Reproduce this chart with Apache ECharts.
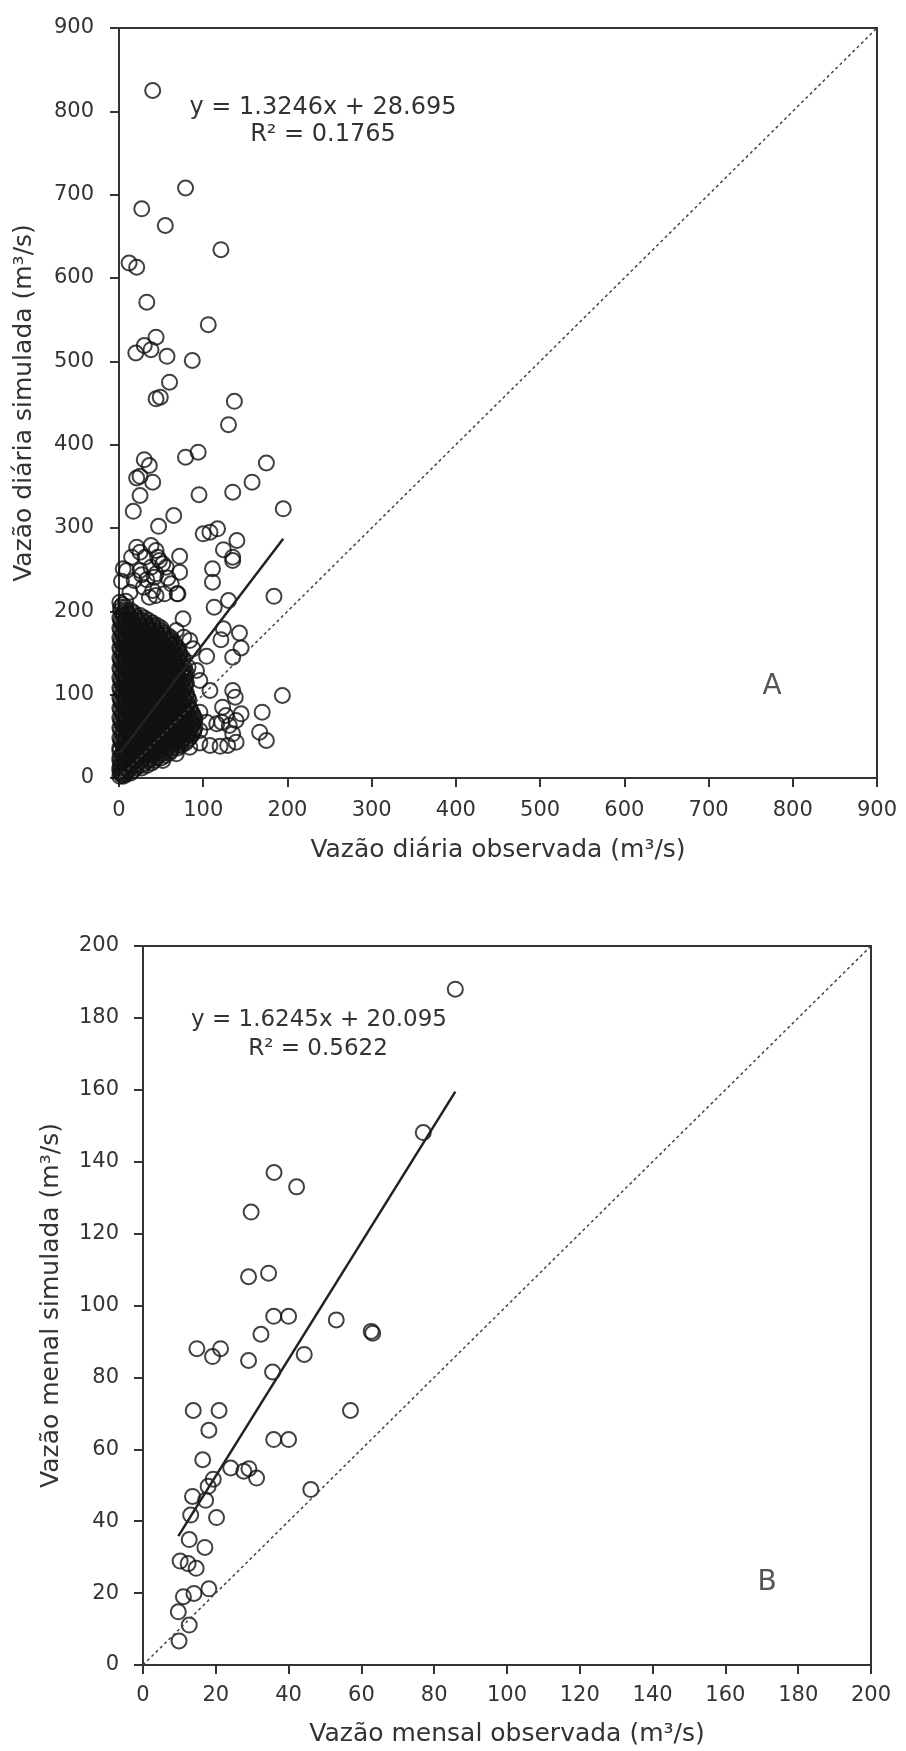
<!DOCTYPE html>
<html>
<head>
<meta charset="utf-8">
<script src="https://cdn.jsdelivr.net/npm/echarts/dist/echarts.min.js"></script>
<style>
html,body{margin:0;padding:0;background:#fff;}
#c{width:906px;height:1751px;}
</style>
</head>
<body>
<div id="c"></div>
<script>
// ---------- Chart A (daily) ----------
const aXTitle = 'Vazão diária observada (m³/s)';
const aYTitle = 'Vazão diária simulada (m³/s)';
const aEq = 'y = 1.3246x + 28.695';
const aR2 = 'R² = 0.1765';
const aSlope = 1.3246, aIntercept = 28.695;
const aMax = 900, aStep = 100;

// scattered (readable) daily points [observed, simulated]
const aOutliers = [
  [40,825],[79,708],[27,683],[55,663],[121,634],[12,618],[21,613],[33,571],[106,544],
  [44,529],[30,519],[38,514],[20,510],[57,506],[87,501],[60,475],[137,452],[44,455],
  [49,457],[130,424],[79,385],[94,391],[175,378],[30,382],[36,375],[25,362],[21,360],
  [40,355],[158,355],[135,343],[95,340],[25,339],[17,320],[195,323],[65,315],[47,302],
  [100,293],[108,295],[117,299],[140,285],[124,274],[135,265],[72,266],[72,247],
  [111,251],[111,235],[135,261],[69,221],[184,218],[113,205],[130,213],[76,191],
  [77,169],[124,179],[143,174],[121,166],[145,156],[135,145],[104,146],[88,155],
  [84,165],[68,177],[92,129],[96,117],[82,133],[194,99],[108,105],[135,105],[138,97],
  [123,85],[127,75],[145,77],[170,79],[167,55],[175,45],[139,43],[129,39],[120,38],
  [108,39],[96,42],[131,63],[139,69],[122,67],[135,53],[116,65],[104,67],[96,79],
  [96,57],[84,37],[68,29],[52,21],
  [5,251],[15,265],[21,277],[25,271],[31,265],[38,279],[44,273],[48,261],[38,253],
  [44,245],[25,249],[13,223],[29,229],[52,257],[56,253],[36,217],[44,219],[9,249],
  [27,244],[70,221],[40,225],[46,265],[42,241],[54,221],[3,236],[8,212],[62,233],
  [18,237],[33,238],[58,240]
];

// dense cloud near the origin, read row by row (simulated value -> observed values)
const aCloudY = [2,6,12,18,24,30,36,42,48,54,60,66,72,78,84,90,96,102,108,114,120,126,
  132,138,144,150,156,162,168,174,180,186,192,198,205,211];
const aCloudX = [
  [1,5],
  [2,8,14],
  [1,7,13,20,27],
  [3,9,16,24,31,39],
  [1,7,14,22,29,36,44,50],
  [4,10,17,25,32,39,46,53,60],
  [1,8,15,21,29,36,42,50,57,63,70],
  [3,11,17,24,32,38,46,52,60,66,73,79],
  [1,8,14,22,28,36,43,49,57,64,71,77,84],
  [4,10,18,25,31,39,45,53,60,66,74,81,88],
  [1,7,15,21,29,35,43,50,56,64,70,78,84,90],
  [3,11,17,25,32,38,46,53,59,67,73,81,88],
  [1,8,14,22,29,36,42,50,57,63,71,77,85,90],
  [4,10,18,24,32,39,45,53,60,66,74,81,87],
  [1,7,15,22,28,36,43,49,57,64,70,78,84],
  [3,11,17,25,31,39,46,52,60,67,73,81],
  [1,8,14,22,29,35,43,50,56,64,71,77,82],
  [4,10,18,24,32,39,45,53,60,66,74,80],
  [1,7,15,21,29,36,42,50,57,63,71,78],
  [3,11,17,25,31,39,46,52,60,67,73,80],
  [1,8,14,22,28,36,43,49,57,64,70,78],
  [4,10,18,24,32,39,45,53,60,66,74,80],
  [1,7,15,21,29,36,42,50,57,63,71,78],
  [3,11,17,25,31,39,46,52,60,67,74],
  [1,8,14,22,28,36,43,49,57,64,70,76],
  [4,10,18,24,32,39,45,53,60,66,72],
  [1,7,15,21,29,36,42,50,57,63,70],
  [3,11,17,25,31,39,46,52,60,66],
  [1,8,14,22,28,36,43,49,57,62],
  [4,10,18,24,32,39,45,53],
  [1,7,15,21,29,36,43,50],
  [3,11,17,25,32,40],
  [1,8,14,22,30],
  [4,10,18],
  [2,8],
  [1]
];
// in-between rows of the same cloud
const aCloudY2 = [4,9,15,21,27,33,39,45,51,57,63,69,75,81,87,93,99,105,111,117,123,129,
  135,141,147,153,159,165,171,177,183,189,195,201,208];
const aCloudX2 = [
  [3,8],
  [1,5,11,17],
  [2,6,12,19,26,33],
  [1,6,13,20,27,35,42],
  [3,10,18,25,33,40,48,55],
  [1,6,13,20,26,34,41,48,55,62],
  [5,12,19,26,33,40,47,55,62,69,74],
  [2,7,15,20,28,35,41,49,56,62,69,75,81],
  [5,12,18,26,33,40,47,54,61,68,75,82,86],
  [2,8,14,22,28,36,42,50,57,63,70,77,84,89],
  [5,11,18,25,32,39,46,54,61,67,74,81,87],
  [2,7,15,21,28,35,43,50,56,64,70,78,84,90],
  [5,12,18,26,33,39,47,53,61,67,75,81,88],
  [2,8,14,21,29,36,42,50,57,63,71,77,85],
  [5,11,18,25,32,40,46,53,61,67,74,80],
  [2,7,15,21,28,35,43,49,56,64,70,77,83],
  [5,12,18,26,32,39,47,53,60,67,74,80],
  [2,8,14,22,28,36,42,50,57,63,70,77],
  [5,11,18,25,32,40,46,53,61,67,74,79],
  [2,7,15,21,28,35,43,49,56,64,70,76],
  [5,12,18,26,32,39,47,53,60,67,74,79],
  [2,8,14,22,28,36,42,50,57,63,70,76],
  [5,11,18,25,32,40,46,53,61,67,73],
  [2,7,15,21,28,35,43,49,56,64,70,75],
  [5,12,18,26,32,39,47,53,60,67,72],
  [2,8,14,22,28,36,42,50,57,63,69],
  [5,11,18,25,32,40,46,53,61,66],
  [2,7,15,21,28,35,43,49,56,62],
  [5,12,18,26,32,39,47,53,58],
  [2,8,14,22,28,36,42,50],
  [5,11,18,25,32,40,45],
  [2,7,15,21,28,35],
  [5,12,18,25],
  [2,8,14],
  [4]
];

// ---------- Chart B (monthly) ----------
const bXTitle = 'Vazão mensal observada (m³/s)';
const bYTitle = 'Vazão menal simulada (m³/s)';
const bEq = 'y = 1.6245x + 20.095';
const bR2 = 'R² = 0.5622';
const bSlope = 1.6245, bIntercept = 20.095;
const bMax = 200, bStep = 20;

const bObserved = [77.0,36.0,42.2,29.7,29.0,34.5,35.9,40.0,53.1,62.7,63.1,32.4,14.8,21.3,
  19.1,29.0,44.3,35.6,13.8,20.9,57.0,18.1,35.9,40.0,16.4,24.1,27.7,29.1,31.2,19.3,17.9,
  46.1,13.6,17.2,13.1,20.2,12.7,17.0,10.2,12.4,14.6,9.7,11.1,14.0,18.1,12.7,9.9,85.8];
const bSimulated = [148.1,137,133,126,108,109,97,97,96,92.8,92.3,92,88,88,
  85.8,84.7,86.4,81.5,70.8,70.8,70.8,65.3,62.7,62.7,57.1,54.8,53.9,54.6,52.0,51.7,49.7,
  48.8,46.9,45.8,41.7,41.0,34.9,32.7,28.9,28.2,26.9,14.8,19.0,19.9,21.2,11.1,6.7,188];

// ---------- build ----------
const FONT = 'DejaVu Sans';
const TXT = '#333';

const aPoints = aOutliers.slice();
aCloudY.forEach((y, i) => aCloudX[i].forEach(x => aPoints.push([x, y])));
aCloudY2.forEach((y, i) => aCloudX2[i].forEach(x => aPoints.push([x, y])));
const bPoints = bObserved.map((x, i) => [x, bSimulated[i]]);

function trend(points, m, c) {
  const xs = points.map(p => p[0]);
  const lo = Math.min(...xs), hi = Math.max(...xs);
  return [[lo, m * lo + c], [hi, m * hi + c]];
}

function xAxisCfg(gi, max, step, name, gap, margin) {
  return {
    gridIndex: gi, type: 'value', min: 0, max: max, interval: step,
    name: name, nameLocation: 'middle', nameGap: gap,
    nameTextStyle: {fontFamily: FONT, fontSize: 25, color: TXT},
    axisLine: {show: true, onZero: false, lineStyle: {color: '#333', width: 2}},
    axisTick: {show: true, inside: false, length: 9, lineStyle: {color: '#333', width: 2}},
    axisLabel: {margin: margin, fontFamily: FONT, fontSize: 21, color: TXT},
    splitLine: {show: false}
  };
}
function yAxisCfg(gi, max, step, name, gap, margin) {
  return {
    gridIndex: gi, type: 'value', min: 0, max: max, interval: step,
    name: name, nameLocation: 'middle', nameGap: gap, nameRotate: 90,
    nameTextStyle: {fontFamily: FONT, fontSize: 25, color: TXT},
    axisLine: {show: true, onZero: false, lineStyle: {color: '#333', width: 2}},
    axisTick: {show: true, inside: false, length: 9, lineStyle: {color: '#333', width: 2}},
    axisLabel: {margin: margin, fontFamily: FONT, fontSize: 21, color: TXT},
    splitLine: {show: false}
  };
}
const scatterStyle = {color: 'rgba(0,0,0,0)', borderColor: '#111', borderWidth: 2};

function txt(text, x, y, size, color) {
  return {type: 'text', silent: true, z: 100,
    style: {text: text, x: x, y: y, align: 'center', verticalAlign: 'middle',
      font: size + 'px "' + FONT + '"', fill: color}};
}

const chart = echarts.init(document.getElementById('c'), null, {renderer: 'canvas'});
chart.setOption({
  animation: false,
  backgroundColor: '#fff',
  grid: [
    {left: 119, top: 28, width: 758, height: 750, show: true, borderColor: '#333', borderWidth: 2},
    {left: 143, top: 946, width: 728, height: 719, show: true, borderColor: '#333', borderWidth: 2}
  ],
  xAxis: [
    xAxisCfg(0, aMax, aStep, aXTitle, 60, 22),
    xAxisCfg(1, bMax, bStep, bXTitle, 57, 20)
  ],
  yAxis: [
    yAxisCfg(0, aMax, aStep, aYTitle, 82, 25),
    yAxisCfg(1, bMax, bStep, bYTitle, 79, 24)
  ],
  series: [
    {type: 'scatter', xAxisIndex: 0, yAxisIndex: 0, data: aPoints, symbol: 'circle',
     symbolSize: 15, itemStyle: scatterStyle, silent: true, large: false, progressive: 0},
    {type: 'line', xAxisIndex: 0, yAxisIndex: 0, data: [[0, 0], [aMax, aMax]], symbol: 'none',
     lineStyle: {color: '#444', width: 1.5, type: [3, 3]}, silent: true, z: 3},
    {type: 'line', xAxisIndex: 0, yAxisIndex: 0, data: trend(aPoints, aSlope, aIntercept),
     symbol: 'none', lineStyle: {color: '#222', width: 2.5}, silent: true, z: 4},
    {type: 'scatter', xAxisIndex: 1, yAxisIndex: 1, data: bPoints, symbol: 'circle',
     symbolSize: 15, itemStyle: scatterStyle, silent: true},
    {type: 'line', xAxisIndex: 1, yAxisIndex: 1, data: [[0, 0], [bMax, bMax]], symbol: 'none',
     lineStyle: {color: '#444', width: 1.5, type: [3, 3]}, silent: true, z: 3},
    {type: 'line', xAxisIndex: 1, yAxisIndex: 1, data: trend(bPoints, bSlope, bIntercept),
     symbol: 'none', lineStyle: {color: '#222', width: 2.5}, silent: true, z: 4}
  ],
  graphic: [
    txt(aEq, 323, 108, 24, TXT),
    txt(aR2, 323, 135, 24, TXT),
    txt('A', 772, 687, 28, '#555'),
    txt(bEq, 319, 1020, 23, TXT),
    txt(bR2, 318, 1049, 23, TXT),
    txt('B', 767, 1583, 28, '#555')
  ]
});
</script>
</body>
</html>
